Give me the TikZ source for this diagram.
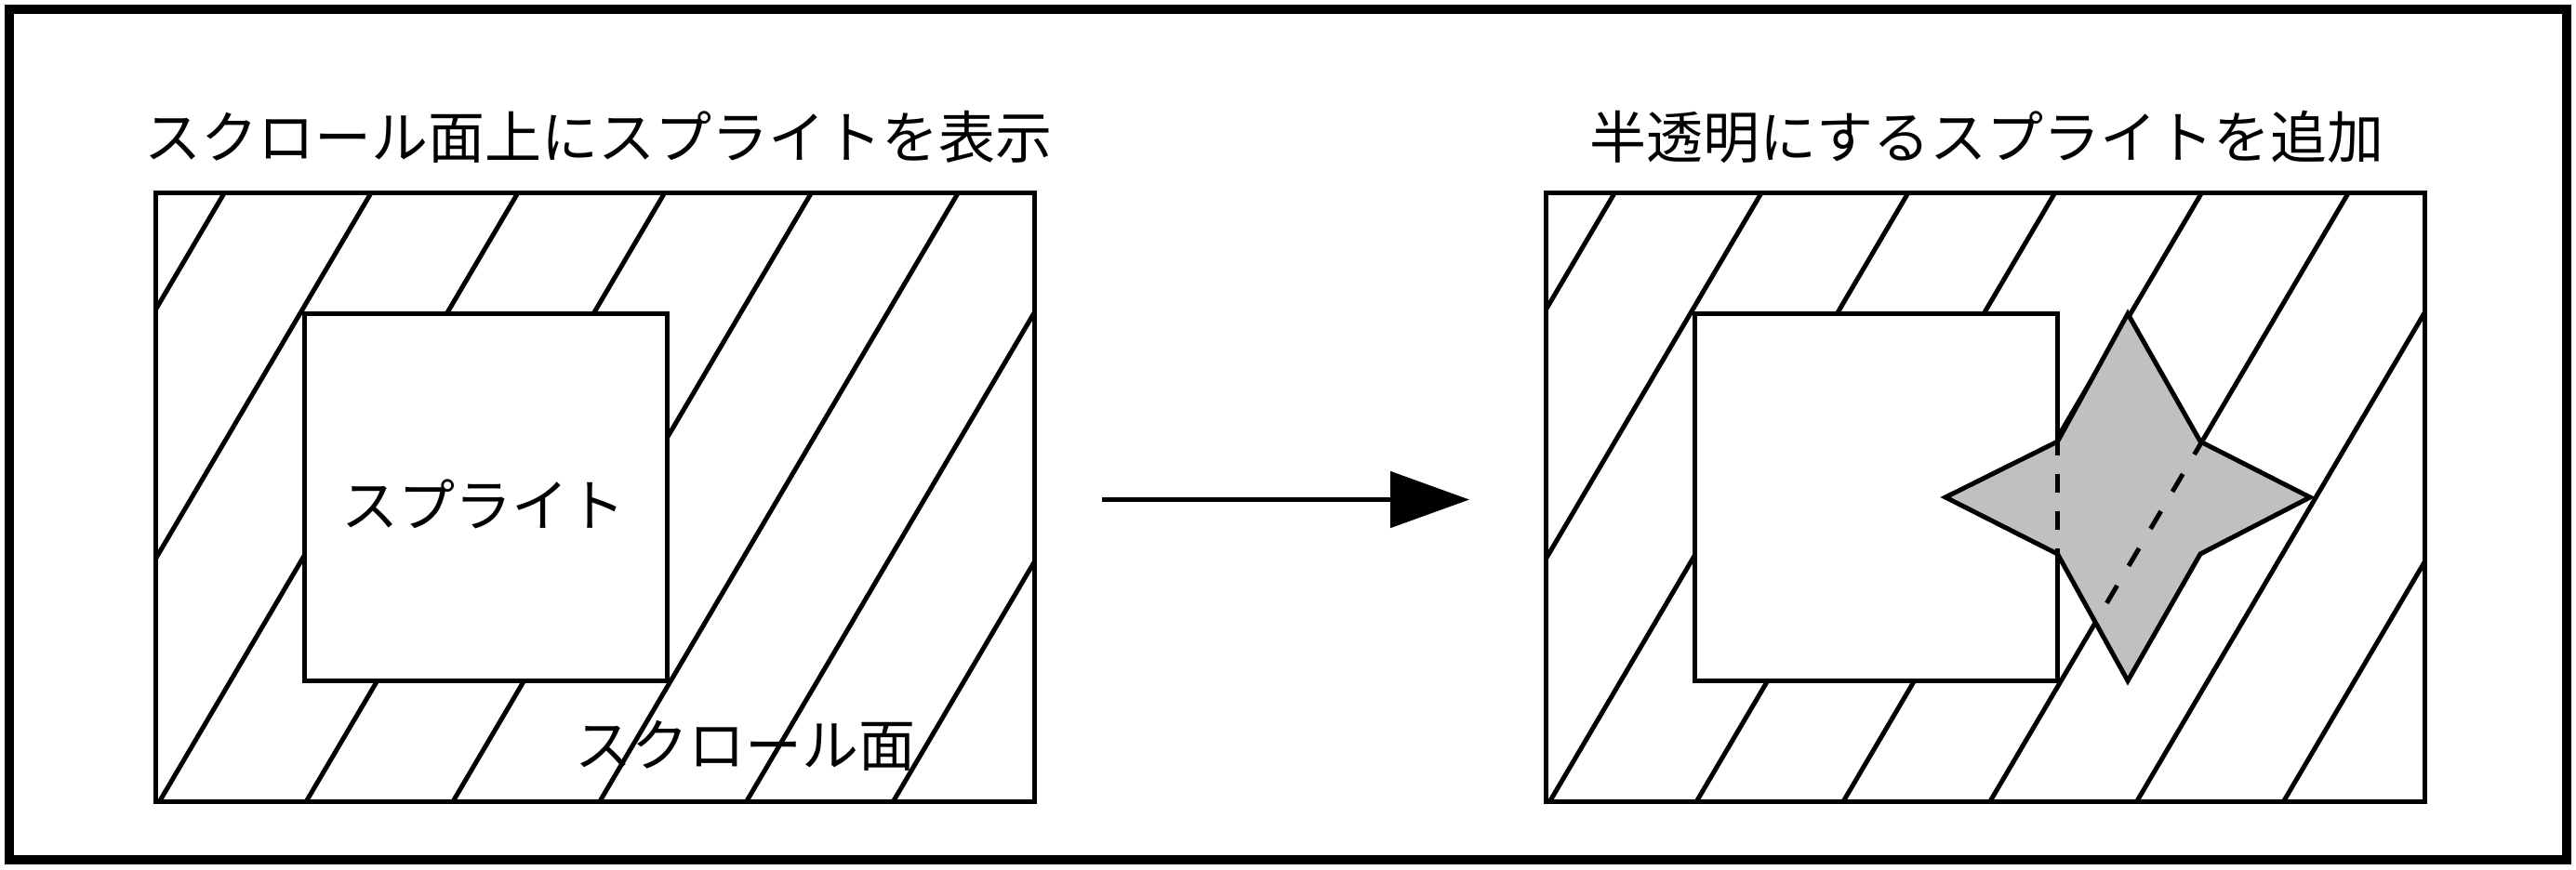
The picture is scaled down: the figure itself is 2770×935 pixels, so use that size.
\documentclass[tikz,border=0pt]{standalone}
\usepackage{fontspec}
\newfontfamily\jp{Noto Sans CJK JP}
\usetikzlibrary{arrows.meta}
\definecolor{starGray}{HTML}{C0C0C0}
\begin{document}
\begin{tikzpicture}[x=1pt,y=-1pt,
  panel/.style={draw, line width=5pt, rectangle, inner sep=0pt, outer sep=0pt,
    minimum width=945pt, minimum height=655pt, anchor=north west},
  spritebox/.style={draw, fill=white, line width=5pt, rectangle, inner sep=0pt, outer sep=0pt,
    minimum width=390pt, minimum height=395pt, anchor=north west},
  hatch/.style={line width=5pt},
  lbl/.style={font=\jp\fontsize{61pt}{61pt}\selectfont, inner sep=0pt},
  ]
\useasboundingbox (0,0) rectangle (2770,935);
\draw[line width=10pt] (10,10) rectangle (2760,925);

% titles
\node[lbl] (titleL) at (643,147.5) {スクロール面上にスプライトを表示};
\node[lbl] (titleR) at (2136.5,147.5) {半透明にするスプライトを追加};

% panels
\node[panel] (panelL) at (167.5,207.5) {};
\node[panel] (panelR) at (1662.5,207.5) {};

% hatching
\foreach \p/\xo in {panelL/167.5, panelR/1662.5}{
  \begin{scope}
    \clip (\p.north west) rectangle (\p.south east);
    \foreach \k in {0,...,8}{
      \draw[hatch] ({\xo+73.75+157.8*\k},207.5) -- ({\xo+73.75+157.8*\k-385.5},862.5);
    }
  \end{scope}
}

% sprites
\node[spritebox] (spriteL) at (327.5,337.5) {};
\node[spritebox] (spriteR) at (1822.5,337.5) {};
\node[lbl] (spriteLbl) at (520,542.5) {スプライト};
\node[lbl] (scrollLbl) at (801,802.5) {スクロール面};

% star (semi-transparent sprite)
\draw[line width=5pt, fill=starGray] (2288,337.5) -- (2366,475) -- (2484,535) -- (2366,596)
  -- (2288,732.5) -- (2212.5,596) -- (2092,535) -- (2212.5,475) -- cycle;
\draw[hatch, dash pattern=on 20pt off 20pt, dash phase=5pt] (2212.5,475) -- (2212.5,596);
\draw[hatch, dash pattern=on 22pt off 24.4pt, dash phase=5.8pt] (2367.8,475) -- (2253.2,669.6);

% arrow
\coordinate (arrS) at (1185,537.5);
\coordinate (arrE) at (1580,537.5);
\draw[line width=5pt, -{Triangle[length=85pt,width=60pt]}] (arrS) -- (arrE);
\end{tikzpicture}
\end{document}
